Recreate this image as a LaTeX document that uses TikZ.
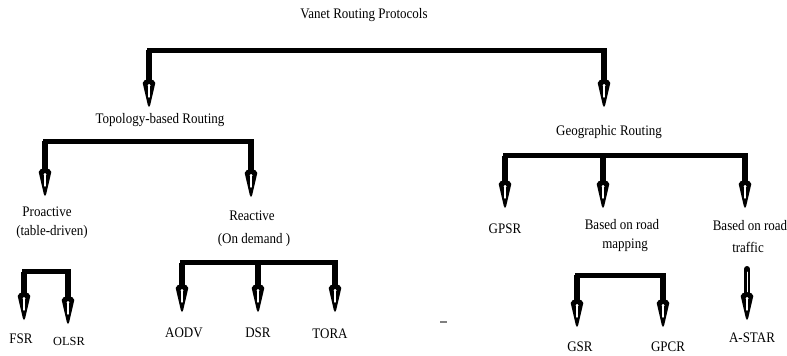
\documentclass[tikz,border=0pt]{standalone}
\usepackage{fontspec}
\setmainfont{Liberation Serif}
\usetikzlibrary{calc}
\newcommand{\vs}[1]{\scalebox{1}[1.12]{#1}}
\newcommand{\vsm}[1]{\scalebox{0.95}[0.95]{#1}}
\begin{document}
\begin{tikzpicture}[x=1pt,y=-1pt,
  lbl/.style={inner sep=0pt, font=\fontsize{13}{15}\selectfont},
  bar/.style={line width=5pt, line cap=rect},
  drop/.style={line width=6pt, shorten >=24pt},
  slit/.style={white, line width=1.4pt, line cap=round},
]
\useasboundingbox (0,0) rectangle (787,356);

% text nodes
\node[lbl] (vrp)   at (364,15)  {\vs{Vanet Routing Protocols}};
\node[lbl] (topo)  at (160,120) {\vs{Topology-based Routing}};
\node[lbl] (geo)   at (609,132) {\vs{Geographic Routing}};
\node[lbl] (pro1)  at (47,212)  {\vs{Proactive}};
\node[lbl] (pro2)  at (52,232)  {\vs{(table-driven)}};
\node[lbl] (rea1)  at (252,216) {\vs{Reactive}};
\node[lbl] (rea2)  at (254,240) {\vs{(On demand )}};
\node[lbl] (gpsr)  at (505,229) {\vs{GPSR}};
\node[lbl] (brm1)  at (622,225) {\vs{Based on road}};
\node[lbl] (brm2)  at (625,245) {\vs{mapping}};
\node[lbl] (brt1)  at (750,226) {\vs{Based on road}};
\node[lbl] (brt2)  at (748,247) {\vs{traffic}};
\node[lbl] (fsr)   at (21,339)  {\vs{FSR}};
\node[lbl] (olsr)  at (69,341)  {\vsm{OLSR}};
\node[lbl] (aodv)  at (184,333) {\vs{AODV}};
\node[lbl] (dsr)   at (258,333) {\vs{DSR}};
\node[lbl] (tora)  at (330,334) {\vs{TORA}};
\node[lbl] (gsr)   at (580,347) {\vs{GSR}};
\node[lbl] (gpcr)  at (668,347) {\vs{GPCR}};
\node[lbl] (astar) at (752,338) {\vs{A-STAR}};

% junction coordinates and arrow tips
\coordinate (vL) at (149,50);  \coordinate (vR) at (604,50);
\coordinate (topoT) at (149,107); \coordinate (geoT) at (604,107);

\coordinate (tL) at (45,141);  \coordinate (tR) at (251,141);
\coordinate (proT) at (45,196); \coordinate (reaT) at (251,197);

\coordinate (pL) at (24,271.5); \coordinate (pR) at (68,271.5);
\coordinate (fsrT) at (24,320); \coordinate (olsrT) at (68,324);

\coordinate (rL) at (182,262.5); \coordinate (rM) at (258,262.5); \coordinate (rR) at (335,262.5);
\coordinate (aodvT) at (182,312); \coordinate (dsrT) at (258,312); \coordinate (toraT) at (335,312);

\coordinate (gL) at (505,155.5); \coordinate (gM) at (603,155.5); \coordinate (gR) at (745,155.5);
\coordinate (gpsrT) at (505,208); \coordinate (brmT) at (603,208); \coordinate (brtT) at (745,208);

\coordinate (mL) at (577,275); \coordinate (mR) at (663,275);
\coordinate (gsrT) at (577,327); \coordinate (gpcrT) at (663,327);

\coordinate (aS) at (747,269); \coordinate (astarT) at (747,320);

% bars
\draw[bar] (vL) -- (vR);
\draw[bar] (tL) -- (tR);
\draw[bar] (pL) -- (pR);
\draw[bar] (rL) -- (rR);
\draw[bar] (gL) -- (gR);
\draw[bar] (mL) -- (mR);

% drops (shafts)
\draw[drop] (vL) -- (topoT);
\draw[drop] (vR) -- (geoT);
\draw[drop] (tL) -- (proT);
\draw[drop] (tR) -- (reaT);
\draw[drop] (pL) -- (fsrT);
\draw[drop] (pR) -- (olsrT);
\draw[drop] (rL) -- (aodvT);
\draw[drop] (rM) -- (dsrT);
\draw[drop] (rR) -- (toraT);
\draw[drop] (gL) -- (gpsrT);
\draw[drop] (gM) -- (brmT);
\draw[drop] (gR) -- (brtT);
\draw[drop] (mL) -- (gsrT);
\draw[drop] (mR) -- (gpcrT);
\draw[drop, line cap=round] (aS) -- (astarT);
\draw[slit, line width=1pt] (747,272) -- (747,292);

% arrow heads with white slits
\foreach \t in {topoT,geoT,proT,reaT,fsrT,olsrT,aodvT,dsrT,toraT,gpsrT,brmT,brtT,gsrT,gpcrT,astarT}{
  \fill ($(\t)+(-6.3,-24)$) .. controls ($(\t)+(-6.3,-29)$) and ($(\t)+(6.3,-29)$) .. ($(\t)+(6.3,-24)$)
        -- ($(\t)+(1.2,-2)$) -- (\t) -- ($(\t)+(-1.2,-2)$) -- cycle;
  \draw[slit] ($(\t)+(0,-22)$) -- ($(\t)+(0,-10)$);
  \fill[white] ($(\t)+(0,-21.5)$) circle (1.5pt);
}

% stray mark
\draw[gray, line width=1.2pt] (440,322) -- (447,322);
\end{tikzpicture}
\end{document}
